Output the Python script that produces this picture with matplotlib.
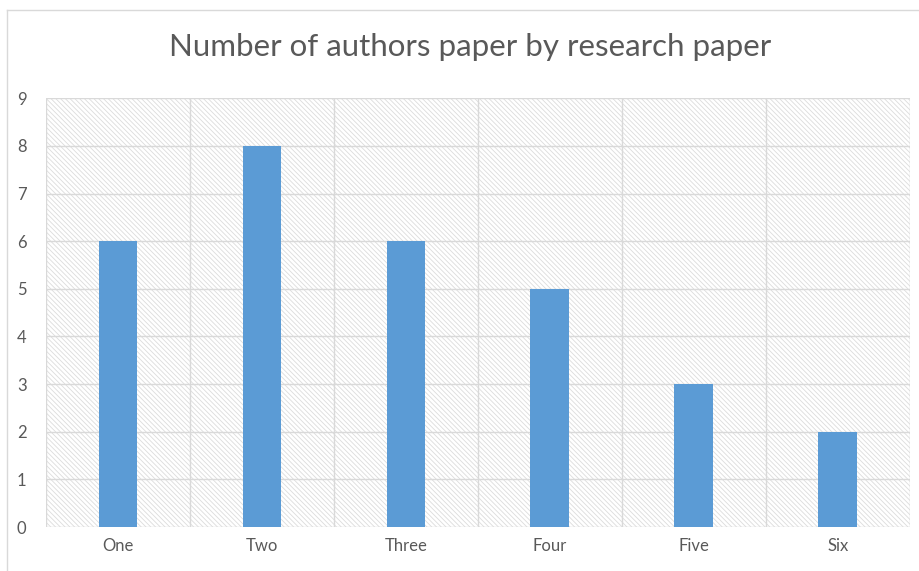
import matplotlib.pyplot as plt
from matplotlib.patches import Rectangle
from matplotlib.lines import Line2D

# Anzahl der Paper je Autorenzahl
categories = ["One", "Two", "Three", "Four", "Five", "Six"]
paper_counts = [6, 8, 6, 5, 3, 2]
y_ticks = list(range(0, 10))

title = "Number of authors paper by research paper"

bar_color = "#5B9BD5"
text_color = "#595959"
grid_color = "#D9D9D9"
hatch_color = "#DCDCDC"

plt.rcParams['font.family'] = ['Lato', 'DejaVu Sans']
plt.rcParams['hatch.linewidth'] = 0.6

fig = plt.figure(figsize=(9.2, 5.71), dpi=100)
ax = fig.add_axes([0.05, 0.077, 0.939, 0.751])

x = list(range(len(categories)))
ax.set_xlim(-0.5, len(categories) - 0.5)
ax.set_ylim(0, 9)

# schraffierter Hintergrund der Zeichenfläche (dichte Schrägstreifen)
bg = Rectangle((0, 0), 1, 1, transform=ax.transAxes,
               facecolor='white', edgecolor=hatch_color, linewidth=0,
               hatch='\\' * 7, zorder=0)
ax.add_patch(bg)

# Gitter: horizontal je Einheit, vertikal zwischen den Kategorien
for yv in y_ticks:
    ax.axhline(yv, color=grid_color, linewidth=1.0, zorder=1)
for xv in [i - 0.5 for i in range(len(categories) + 1)]:
    ax.axvline(xv, color=grid_color, linewidth=1.0, zorder=1)

ax.bar(x, paper_counts, width=0.27, color=bar_color, zorder=3)

ax.set_xticks(x)
ax.set_xticklabels(categories)
ax.set_yticks(y_ticks)
ax.tick_params(axis='both', length=0, colors=text_color, labelsize=12)
ax.tick_params(axis='x', pad=8)
ax.tick_params(axis='y', pad=14)
for s in ax.spines.values():
    s.set_visible(False)

fig.text(0.511, 0.918, title, ha='center', va='center',
         fontsize=22.5, color=text_color)

# Rahmen des Diagrammbereichs (links und oben sichtbar)
fig.add_artist(Line2D([0.008, 0.008], [0, 0.982], transform=fig.transFigure,
                      color='#D9D9D9', linewidth=1.0))
fig.add_artist(Line2D([0.008, 1.0], [0.982, 0.982], transform=fig.transFigure,
                      color='#D9D9D9', linewidth=1.0))

fig.savefig("out.png", dpi=100)
